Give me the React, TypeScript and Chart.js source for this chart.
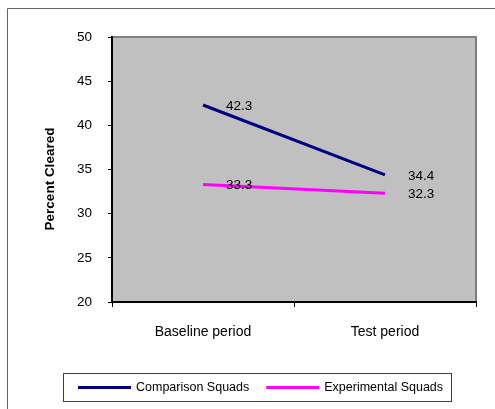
import React, { useEffect, useRef } from "react";
import { Chart, registerables } from "chart.js";

Chart.register(...registerables);

const categories = ["Baseline period", "Test period"];
const seriesNames = ["Comparison Squads", "Experimental Squads"];
const comparisonValues = [42.3, 34.4];
const experimentalValues = [33.3, 32.3];
const seriesColors = ["#000080", "#FF00FF"];
const yTitle = "Percent Cleared";

const FONT = '"Liberation Sans", Arial, sans-serif';

const decorPlugin = {
  id: "decor",
  beforeDraw(chart: any) {
    const { ctx, chartArea } = chart;
    ctx.save();
    ctx.fillStyle = "#ffffff";
    ctx.fillRect(0, 0, chart.width, chart.height);
    // outer frame
    ctx.strokeStyle = "#666666";
    ctx.lineWidth = 1;
    ctx.beginPath();
    ctx.moveTo(7.5, chart.height);
    ctx.lineTo(7.5, 8.5);
    ctx.lineTo(chart.width, 8.5);
    ctx.stroke();
    // plot area
    ctx.fillStyle = "#c0c0c0";
    ctx.fillRect(chartArea.left, chartArea.top, chartArea.right - chartArea.left, chartArea.bottom - chartArea.top);
    ctx.strokeStyle = "#808080";
    ctx.lineWidth = 2;
    ctx.beginPath();
    ctx.moveTo(chartArea.left, chartArea.top);
    ctx.lineTo(chartArea.right, chartArea.top);
    ctx.lineTo(chartArea.right, chartArea.bottom);
    ctx.stroke();
    // y title
    ctx.fillStyle = "#000000";
    ctx.font = "bold 13.5px " + FONT;
    ctx.textAlign = "center";
    ctx.textBaseline = "middle";
    ctx.translate(50, 179);
    ctx.rotate(-Math.PI / 2);
    ctx.fillText(yTitle, 0, 0);
    ctx.restore();
  },
  afterDatasetsDraw(chart: any) {
    const { ctx } = chart;
    ctx.save();
    ctx.fillStyle = "#000000";
    ctx.font = "13.5px " + FONT;
    ctx.textAlign = "left";
    ctx.textBaseline = "middle";
    chart.data.datasets.forEach((ds: any, i: number) => {
      const meta = chart.getDatasetMeta(i);
      meta.data.forEach((pt: any, j: number) => {
        ctx.fillText(Number(ds.data[j]).toFixed(1), pt.x + 23, pt.y + 1);
      });
    });
    ctx.restore();
  },
  afterDraw(chart: any) {
    const { ctx } = chart;
    ctx.save();
    // legend box
    ctx.strokeStyle = "#404040";
    ctx.lineWidth = 1;
    ctx.strokeRect(63.5, 373.5, 388, 28);
    ctx.font = "12.5px " + FONT;
    ctx.textAlign = "left";
    ctx.textBaseline = "middle";
    let x = 78;
    const y = 387.5;
    chart.data.datasets.forEach((ds: any) => {
      ctx.strokeStyle = ds.borderColor;
      ctx.lineWidth = 3;
      ctx.beginPath();
      ctx.moveTo(x, y);
      ctx.lineTo(x + 53, y);
      ctx.stroke();
      x += 58;
      ctx.fillStyle = "#000000";
      ctx.fillText(ds.label, x, y);
      x += ctx.measureText(ds.label).width + 17;
    });
    ctx.restore();
  },
};

export default function App() {
  const ref = useRef<HTMLCanvasElement>(null);
  useEffect(() => {
    document.body.style.margin = "0";
    const chart = new Chart(ref.current!, {
      type: "line",
      data: {
        labels: categories,
        datasets: [
          {
            label: seriesNames[0],
            data: comparisonValues,
            borderColor: seriesColors[0],
            backgroundColor: seriesColors[0],
            borderWidth: 3,
            pointRadius: 0,
            tension: 0,
          },
          {
            label: seriesNames[1],
            data: experimentalValues,
            borderColor: seriesColors[1],
            backgroundColor: seriesColors[1],
            borderWidth: 3,
            pointRadius: 0,
            tension: 0,
          },
        ],
      },
      options: {
        animation: false,
        responsive: false,
        devicePixelRatio: 1,
        layout: { padding: { top: 37, right: 19, left: 0, bottom: 0 } },
        plugins: { legend: { display: false }, tooltip: { enabled: false } },
        scales: {
          x: {
            type: "category",
            offset: true,
            afterFit: (s: any) => {
              s.height = 107;
            },
            grid: { offset: true, drawOnChartArea: false, drawTicks: true, tickLength: 5, color: "#000000" },
            border: { color: "#000000", width: 2 },
            ticks: { color: "#000000", font: { family: FONT, size: 14 }, padding: 17, maxRotation: 0 },
          },
          y: {
            min: 20,
            max: 50,
            afterFit: (s: any) => {
              s.width = 112;
            },
            grid: { drawOnChartArea: false, drawTicks: true, tickLength: 4, color: "#000000" },
            border: { color: "#000000", width: 2 },
            ticks: { stepSize: 5, color: "#000000", font: { family: FONT, size: 13.5 }, padding: 16 },
          },
        },
      },
      plugins: [decorPlugin],
    });
    return () => chart.destroy();
  }, []);
  return (
    <div style={{ width: 495, height: 409 }}>
      <canvas ref={ref} width={495} height={409} style={{ width: 495, height: 409, display: "block" }} />
    </div>
  );
}
